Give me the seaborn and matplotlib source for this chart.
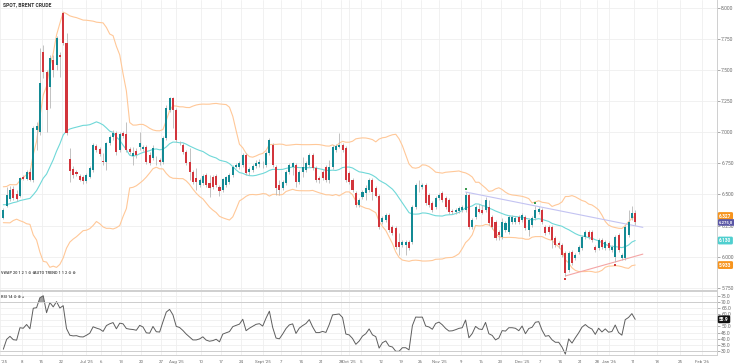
import numpy as np
import pandas as pd
import matplotlib
matplotlib.use("Agg")
import matplotlib.pyplot as plt
from matplotlib.ticker import FuncFormatter
import seaborn as sns

# closes before the first visible bar (only warm up the bands / RSI)
history_close = [6480, 6390, 6300, 6350, 6420, 6500, 6560, 6510, 6450, 6380,
                 6420, 6470, 6520, 6440, 6350, 6380, 6430, 6300, 6330]

opens = [6311, 6408, 6464, 6544, 6504, 6488, 6641, 6625, 6681, 6617,
         7020, 7000, 7646, 7485, 7365, 7582, 7542, 7622, 7960, 7718,
         6786, 6705, 6681, 6649, 6641, 6609, 6641, 6697, 6890, 6866,
         6765, 6762, 6914, 6963, 6995, 6858, 6995, 6987, 6866, 6810,
         6850, 6882, 6866, 6882, 6818, 6794, 6770, 6778, 6762, 6955,
         7180, 7276, 7180, 6914, 6898, 6842, 6762, 6681, 6633, 6577,
         6593, 6657, 6593, 6641, 6649, 6560, 6536, 6577, 6601, 6657,
         6721, 6721, 6738, 6818, 6681, 6697, 6729, 6746, 6738, 6738,
         6834, 6898, 6721, 6577, 6552, 6593, 6681, 6721, 6738, 6601,
         6681, 6697, 6738, 6818, 6713, 6633, 6681, 6721, 6617, 6721,
         6858, 6882, 6898, 6874, 6673, 6617, 6512, 6416, 6480, 6512,
         6536, 6617, 6552, 6488, 6279, 6295, 6335, 6239, 6231, 6118,
         6094, 6094, 6118, 6118, 6400, 6577, 6560, 6577, 6496, 6432,
         6400, 6472, 6512, 6472, 6456, 6367, 6359, 6367, 6376, 6376,
         6496, 6239, 6319, 6384, 6376, 6376, 6400, 6319, 6279, 6199,
         6159, 6215, 6199, 6279, 6279, 6319, 6295, 6319, 6215, 6255,
         6311, 6359, 6376, 6239, 6239, 6239, 6150, 6110, 6094, 6030,
         5893, 6038, 5990, 6038, 6070, 6159, 6199, 6199, 6078, 6070,
         6134, 6070, 6110, 6054, 5998, 6175, 5990, 5990, 6175, 6311,
         6351]
highs = [6392, 6560, 6568, 6568, 6536, 6641, 6657, 6697, 6713, 7051,
         7080, 7678, 7702, 7501, 7622, 7622, 7775, 7646, 7968, 7799,
         6874, 6729, 6697, 6665, 6657, 6673, 6729, 6914, 6906, 6882,
         6834, 6922, 6979, 7019, 7011, 7003, 7011, 7083, 6882, 6882,
         6874, 7003, 6898, 6898, 6842, 6898, 6810, 6794, 6971, 7220,
         7284, 7284, 7196, 6930, 6914, 6858, 6874, 6697, 6713, 6633,
         6665, 6673, 6657, 6657, 6665, 6577, 6633, 6649, 6673, 6738,
         6754, 6770, 6834, 6834, 6721, 6746, 6778, 6786, 6770, 6850,
         6955, 6914, 6738, 6617, 6617, 6697, 6754, 6762, 6754, 6697,
         6802, 6770, 6834, 6834, 6729, 6649, 6697, 6738, 6778, 6898,
         6906, 6995, 6914, 6890, 6689, 6633, 6528, 6472, 6536, 6577,
         6633, 6633, 6568, 6504, 6327, 6351, 6351, 6255, 6247, 6191,
         6134, 6134, 6134, 6416, 6593, 6617, 6593, 6593, 6512, 6448,
         6488, 6512, 6528, 6488, 6472, 6384, 6392, 6408, 6416, 6520,
         6512, 6311, 6416, 6424, 6416, 6480, 6456, 6335, 6295, 6215,
         6311, 6287, 6335, 6335, 6327, 6335, 6351, 6335, 6311, 6327,
         6408, 6400, 6392, 6255, 6255, 6255, 6167, 6126, 6110, 6046,
         6046, 6054, 6030, 6094, 6175, 6215, 6215, 6215, 6094, 6150,
         6150, 6134, 6126, 6094, 6175, 6191, 6030, 6255, 6376, 6408,
         6376]
lows = [6303, 6400, 6448, 6456, 6448, 6480, 6617, 6617, 6609, 6601,
        6860, 6979, 7437, 7003, 7196, 7445, 7501, 7445, 7702, 6979,
        6601, 6633, 6649, 6609, 6585, 6593, 6633, 6681, 6842, 6810,
        6738, 6697, 6898, 6938, 6818, 6842, 6955, 6842, 6826, 6738,
        6794, 6858, 6850, 6746, 6738, 6778, 6738, 6738, 6746, 6938,
        7164, 7035, 6922, 6898, 6826, 6738, 6617, 6585, 6536, 6560,
        6577, 6560, 6480, 6544, 6560, 6488, 6520, 6560, 6585, 6641,
        6713, 6705, 6721, 6657, 6657, 6681, 6713, 6721, 6713, 6721,
        6818, 6721, 6496, 6496, 6536, 6577, 6665, 6657, 6560, 6585,
        6641, 6681, 6721, 6697, 6601, 6593, 6617, 6601, 6593, 6705,
        6842, 6874, 6842, 6601, 6585, 6520, 6400, 6400, 6464, 6456,
        6520, 6456, 6480, 6223, 6263, 6279, 6199, 6175, 6062, 6014,
        6078, 6014, 6054, 6102, 6384, 6520, 6544, 6416, 6400, 6359,
        6384, 6456, 6440, 6384, 6343, 6343, 6343, 6351, 6359, 6359,
        6223, 6223, 6303, 6351, 6343, 6359, 6255, 6223, 6134, 6134,
        6142, 6199, 6183, 6263, 6263, 6263, 6279, 6215, 6167, 6239,
        6295, 6343, 6263, 6175, 6183, 6070, 6078, 6070, 5998, 5845,
        5877, 5933, 5974, 6022, 6054, 6142, 6142, 6118, 6038, 6054,
        6062, 6054, 6054, 6038, 5958, 6038, 5974, 5974, 6159, 6295,
        6255]
closes = [6376, 6496, 6536, 6472, 6464, 6633, 6625, 6681, 6617, 7035,
          7050, 7397, 7485, 7180, 7598, 7501, 7759, 7606, 7718, 6995,
          6689, 6657, 6665, 6617, 6609, 6657, 6713, 6898, 6858, 6826,
          6762, 6914, 6963, 6995, 6842, 6987, 6971, 6858, 6842, 6834,
          6818, 6914, 6882, 6762, 6754, 6874, 6768, 6762, 6955, 7196,
          7276, 7180, 6938, 6912, 6842, 6754, 6681, 6601, 6601, 6617,
          6649, 6577, 6552, 6560, 6577, 6528, 6625, 6641, 6657, 6721,
          6738, 6754, 6818, 6673, 6705, 6729, 6754, 6762, 6736, 6834,
          6938, 6738, 6552, 6536, 6601, 6681, 6738, 6754, 6601, 6681,
          6721, 6754, 6818, 6713, 6617, 6617, 6633, 6617, 6721, 6882,
          6890, 6898, 6858, 6617, 6601, 6536, 6416, 6456, 6520, 6552,
          6617, 6520, 6488, 6239, 6311, 6335, 6215, 6191, 6078, 6078,
          6118, 6118, 6070, 6400, 6577, 6575, 6577, 6432, 6416, 6376,
          6472, 6496, 6456, 6400, 6359, 6362, 6376, 6392, 6400, 6496,
          6239, 6295, 6400, 6359, 6351, 6456, 6271, 6239, 6150, 6175,
          6279, 6271, 6319, 6319, 6311, 6279, 6335, 6231, 6295, 6311,
          6376, 6384, 6279, 6191, 6199, 6134, 6094, 6094, 6014, 5869,
          6030, 5949, 6014, 6078, 6159, 6199, 6159, 6134, 6054, 6134,
          6078, 6118, 6070, 6078, 6159, 6054, 6014, 6239, 6279, 6351,
          6275]

holidays = ["2025-12-25", "2026-01-01"]
pivot_high_idx = [139, 160]
pivot_low_idx = [169, 184]

price_ticks = [5750, 6000, 6250, 6500, 6750, 7000, 7250, 7500, 7750, 8000]
rsi_ticks = [30, 35, 40, 45, 50, 55, 60, 65, 70, 75]

tick_dates = ["2025-06-01", "2025-06-08", "2025-06-15", "2025-06-22", "2025-07-01",
              "2025-07-06", "2025-07-13", "2025-07-20", "2025-07-27", "2025-08-01",
              "2025-08-10", "2025-08-17", "2025-08-24", "2025-09-01", "2025-09-07",
              "2025-09-14", "2025-09-21", "2025-09-28", "2025-10-01", "2025-10-05",
              "2025-10-12", "2025-10-19", "2025-10-26", "2025-11-01", "2025-11-09",
              "2025-11-16", "2025-11-23", "2025-12-01", "2025-12-07", "2025-12-14",
              "2025-12-21", "2025-12-28", "2026-01-01", "2026-01-11", "2026-01-18",
              "2026-01-25", "2026-02-01"]
tick_labels = ["Jun '25", "8", "15", "22", "Jul '25", "6", "13", "20", "27", "Aug '25",
               "10", "17", "24", "Sept '25", "7", "14", "21", "28", "Oct '25", "5",
               "12", "19", "26", "Nov '25", "9", "16", "23", "Dec '25", "7", "14",
               "21", "28", "Jan '26", "11", "18", "25", "Feb '26"]

TEAL = "#138a94"
RED = "#d2353c"
WICK = "#b8b8b8"
BAND = "#ffc898"
MID = "#6fd8d8"


def eu(v, dec=0):
    s = f"{v:,.{dec}f}"
    return s.replace(",", "#").replace(".", ",").replace("#", ".")


sns.set_theme(style="white")
plt.rcParams["font.family"] = ["Roboto", "DejaVu Sans"]

o = np.array(opens, float)
h = np.array(highs, float)
l = np.array(lows, float)
c = np.array(closes, float)
n = len(c)
assert len(o) == len(h) == len(l) == n

dates = pd.date_range("2025-06-02", "2026-01-12")
dates = dates[(dates.dayofweek != 5) & ~dates.isin(pd.to_datetime(holidays))]
assert len(dates) == n
x = np.arange(n)

# Bollinger 20/2 and RSI 14 from the closes
all_close = pd.Series(history_close + closes, dtype=float)
mid = all_close.rolling(20).mean()
sd = all_close.rolling(20).std(ddof=0)
upper = mid + 2 * sd
lower = mid - 2 * sd
delta = all_close.diff()
gain = delta.clip(lower=0).ewm(alpha=1 / 14, adjust=False).mean()
loss = (-delta.clip(upper=0)).ewm(alpha=1 / 14, adjust=False).mean()
rsi = 100 - 100 / (1 + gain / loss)
k = len(history_close)
mid, upper, lower, rsi = [s.iloc[k:].to_numpy() for s in (mid, upper, lower, rsi)]

W, H = 734, 364
fig = plt.figure(figsize=(W / 100, H / 100), dpi=100)
ax = fig.add_axes([0, 1 - 290 / H, 717 / W, 290 / H])
rax = fig.add_axes([0, 1 - 355 / H, 717 / W, 64 / H], sharex=ax)

# candles
ax.vlines(x, l, h, color=WICK, linewidth=0.6, zorder=2)
up = c >= o
body = np.maximum(np.abs(c - o), 4)
ax.bar(x, body, bottom=np.minimum(o, c), width=0.62,
       color=np.where(up, TEAL, RED), linewidth=0, zorder=3)

# bands
sns.lineplot(x=x, y=upper, ax=ax, color=BAND, linewidth=0.8, zorder=1)
sns.lineplot(x=x, y=lower, ax=ax, color=BAND, linewidth=0.8, zorder=1)
sns.lineplot(x=x, y=mid, ax=ax, color=MID, linewidth=0.8, zorder=1)

# auto trend lines through the pivots
end_x = n + 1.3
i1, i2 = pivot_high_idx
slope = (h[i2] - h[i1]) / (i2 - i1)
xs = np.array([i1, end_x])
sns.lineplot(x=xs, y=h[i1] + slope * (xs - i1), ax=ax, color="#c3c3f2", linewidth=0.8, zorder=1)
j1, j2 = pivot_low_idx
slope2 = (l[j2] - l[j1]) / (j2 - j1)
xs2 = np.array([j1, end_x])
sns.lineplot(x=xs2, y=l[j1] + slope2 * (xs2 - j1), ax=ax, color="#f4a5a5", linewidth=0.8, zorder=1)
ax.scatter(pivot_high_idx, h[pivot_high_idx] + 22, marker="s", s=2.2, color="#3a9a50", zorder=4, linewidths=0)
ax.scatter(pivot_low_idx, l[pivot_low_idx] - 22, marker="s", s=2.2, color="#d23a3a", zorder=4, linewidths=0)

# RSI
sns.lineplot(x=x, y=rsi, ax=rax, color="#5e5e5e", linewidth=0.7)
rax.fill_between(x, rsi, 70, where=rsi > 70, interpolate=True, color="#8a8a8a", alpha=0.8, linewidth=0)
rax.axhline(70, color="#c8c8c8", linewidth=0.6)
rax.axhline(30, color="#c8c8c8", linewidth=0.6)


def date_pos(d, label):
    d = pd.Timestamp(d)
    if d > dates[-1]:
        p = n - 1 + (d - dates[-1]).days
    elif d < dates[0]:
        p = -(dates[0] - d).days
    else:
        p = float(dates.searchsorted(d))
    if label.isdigit():
        p += 0.5
    return p


tick_pos = [date_pos(d, t) for d, t in zip(tick_dates, tick_labels)]

for a in (ax, rax):
    a.yaxis.tick_right()
    a.grid(True, color="#efefef", linewidth=0.6)
    a.set_axisbelow(True)
    a.set_xlabel("")
    a.set_ylabel("")
    a.tick_params(axis="y", labelsize=3.6, colors="#6a6a6a", length=2, width=0.4, pad=1)
    for side in ("left", "top"):
        a.spines[side].set_visible(False)
    for side in ("right", "bottom"):
        a.spines[side].set_color("#cfcfcf")
        a.spines[side].set_linewidth(0.7)
rax.spines["top"].set_visible(True)
rax.spines["top"].set_color("#cfcfcf")
rax.spines["top"].set_linewidth(0.7)

ax.set_xlim(-0.75, 214.6)
ax.set_ylim(5732, 8064)
ax.set_yticks(price_ticks)
ax.yaxis.set_major_formatter(FuncFormatter(lambda v, p: eu(v)))
rax.set_ylim(26.7, 79)
rax.set_yticks(rsi_ticks)
# the RSI value tag sits over the nearest tick label, as in the platform
rsi_last = rsi[-1]
rax.yaxis.set_major_formatter(
    FuncFormatter(lambda v, p: "" if abs(v - rsi_last) < 3 else f"{v:.1f}"))
rax.set_xticks(tick_pos)
rax.set_xticklabels(tick_labels)
ax.tick_params(axis="x", bottom=False, labelbottom=False)
rax.tick_params(axis="x", labelsize=3.2, colors="#6a6a6a", length=2, width=0.4, pad=1.5)


def tag(a, y, text, color, fg="white", size=3.4):
    a.annotate(text, xy=(1.0, y), xycoords=("axes fraction", "data"),
               xytext=(1.6, 0), textcoords="offset points", ha="left", va="center",
               fontsize=size, color=fg, fontweight="bold",
               bbox=dict(boxstyle="round,pad=0.3", fc=color, ec="none"),
               annotation_clip=False, zorder=10)


tag(ax, upper[-1], eu(upper[-1]), "#f7941d")
tag(ax, c[-1], eu(c[-1], 1), "#5b57a6", size=3.0)
tag(ax, mid[-1], eu(mid[-1]), "#4fcfcf")
tag(ax, lower[-1], eu(lower[-1]), "#f7941d")
tag(rax, rsi_last, f"{rsi_last:.1f}", "#111111")

fig.text(3 / W, 1 - 5 / H, "SPOT, BRENT CRUDE", fontsize=3.6, fontweight="bold",
         color="#333333", va="center")
fig.text(1 / W, 1 - 273 / H, "VWAP 20 1 2 1 \u2299 \u2297", fontsize=2.8,
         fontweight="bold", color="#555555", va="center")
fig.text(34 / W, 1 - 273 / H, "AUTO TREND 1 1 2 \u2299 \u2297", fontsize=2.8,
         fontweight="bold", color="#555555", va="center")
fig.text(1 / W, 1 - 297 / H, "RSI 14 \u2299 \u2297 +", fontsize=2.8,
         fontweight="bold", color="#555555", va="center")

fig.savefig("out.png", dpi=100)
